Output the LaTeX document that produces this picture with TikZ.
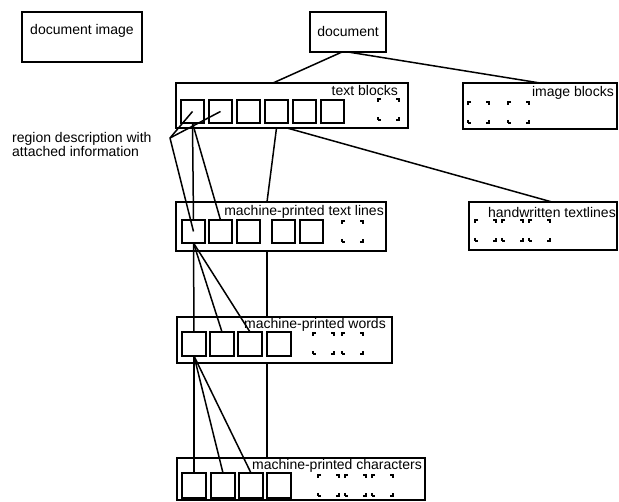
\documentclass[tikz,border=0pt]{standalone}
\usepackage{fontspec}
\setmainfont{Liberation Sans}
\usetikzlibrary{positioning}

\begin{document}
\begin{tikzpicture}[
  x=1pt, y=-1pt,
  font=\fontsize{14pt}{13pt}\selectfont,
  blk/.style={draw, line width=2.2pt, inner sep=0pt, outer sep=0pt, anchor=north west},
  cell/.style={draw, line width=2pt, minimum width=23pt, minimum height=23pt, inner sep=0pt, outer sep=0pt},
  ghost/.style={draw, line width=1.3pt, minimum size=21pt, inner sep=0pt, outer sep=0pt, dash pattern=on 6pt off 15pt, dash phase=3pt},
  tag/.style={anchor=base east, inner sep=0pt},
  link/.style={line width=1.5pt}
]
\useasboundingbox (0,0) rectangle (619,502);

\node[blk, minimum width=120pt, minimum height=50pt] (docimg) at (22,12) {};
\node[anchor=base, inner sep=0pt] (docimglab) at (82,35) {document image};
\node[blk, minimum width=76pt, minimum height=40pt] (doc) at (310,12) {document};

\node[blk, minimum width=232pt, minimum height=45pt] (tb) at (176,83) {};
\node[tag] (tblab) at ([xshift=-10pt,yshift=-13pt]tb.north east) {text blocks};
\node[cell, anchor=north west] (t1) at (181,100) {};
\node[cell, right=5pt of t1] (t2) {};
\node[cell, right=5pt of t2] (t3) {};
\node[cell, right=5pt of t3] (t4) {};
\node[cell, right=5pt of t4] (t5) {};
\node[cell, right=5pt of t5] (t6) {};
\node[ghost, anchor=north west] (tg1) at (378,99) {};

\node[blk, minimum width=154pt, minimum height=46pt] (ib) at (463,83) {};
\node[tag] (iblab) at ([xshift=-3pt,yshift=-14pt]ib.north east) {image blocks};
\node[ghost, anchor=north west] (ig1) at (468,102) {};
\node[ghost, right=19pt of ig1] (ig2) {};

\node[blk, minimum width=210pt, minimum height=49pt] (tl) at (176,202) {};
\node[tag] (tllab) at ([xshift=-2pt,yshift=-14pt]tl.north east) {machine-printed text lines};
\node[cell, anchor=north west] (l1) at (182,220) {};
\node[cell, right=4pt of l1] (l2) {};
\node[cell, right=5pt of l2] (l3) {};
\node[cell, right=12pt of l3] (l4) {};
\node[cell, right=5pt of l4] (l5) {};
\node[ghost, anchor=north west] (lg1) at (342,221) {};

\node[blk, minimum width=148pt, minimum height=48pt] (hw) at (469,202) {};
\node[tag] (hwlab) at ([xshift=-1pt,yshift=-16pt]hw.north east) {handwritten textlines};
\node[ghost, anchor=north west] (hg1) at (475,220) {};
\node[ghost, right=6pt of hg1] (hg2) {};
\node[ghost, right=6pt of hg2] (hg3) {};

\node[blk, minimum width=215pt, minimum height=46pt] (wd) at (177,317) {};
\node[tag] (wdlab) at ([xshift=-6pt,yshift=-12pt]wd.north east) {machine-printed words};
\node[cell, minimum size=24pt, anchor=north west] (w1) at (182,332) {};
\node[cell, minimum size=24pt, right=4pt of w1] (w2) {};
\node[cell, minimum size=24pt, right=4pt of w2] (w3) {};
\node[cell, minimum size=24pt, right=5pt of w3] (w4) {};
\node[ghost, anchor=north west] (wg1) at (313,333) {};
\node[ghost, right=8pt of wg1] (wg2) {};

\node[blk, minimum width=248pt, minimum height=42pt] (ch) at (177,458) {};
\node[tag] (chlab) at ([xshift=-3pt,yshift=-12pt]ch.north east) {machine-printed characters};
\node[cell, minimum width=24pt, minimum height=25pt, anchor=north west] (c1) at (182,473) {};
\node[cell, minimum width=24pt, minimum height=25pt, right=5pt of c1] (c2) {};
\node[cell, minimum width=24pt, minimum height=25pt, right=4pt of c2] (c3) {};
\node[cell, minimum width=24pt, minimum height=25pt, right=4pt of c3] (c4) {};
\node[ghost, anchor=north west] (cg1) at (318,475) {};
\node[ghost, right=6pt of cg1] (cg2) {};
\node[ghost, right=6pt of cg2] (cg3) {};

\node[anchor=north west, inner sep=0pt, align=left] (rdesc) at (12,132) {region description with\\attached information};
\coordinate (apex) at (170,138);
\coordinate (spine) at (267,0);

\draw[link] ([xshift=-6pt]doc.south) -- ([xshift=-19pt]tb.north);
\draw[link] (doc.south) -- (ib.north);
\draw[link] ([xshift=-5pt]tb.south) -- ([xshift=9pt]hw.north);
\draw[link] (t4 |- tb.south) -- (spine |- tl.north);
\draw[link] (spine |- tl.south) -- (spine |- wd.north);
\draw[link] (spine |- wd.south) -- (spine |- ch.north);

\draw[link] (apex) -- (t1.center);
\draw[link] (apex) -- (t2.center);
\draw[link] (apex) -- (l1.center);
\draw[link] (t1.south) -- (l1.north);
\draw[link] (t1.south) -- (l2.north);
\draw[link] (l1.south) -- (w1.north);
\draw[link] (l1.south) -- (w2.north);
\draw[link] (l1.south) -- (w3.north);
\draw[link] (w1.south) -- (c1.north);
\draw[link] (w1.south) -- (c2.north);
\draw[link] (w1.south) -- (c3.north);
\end{tikzpicture}
\end{document}
